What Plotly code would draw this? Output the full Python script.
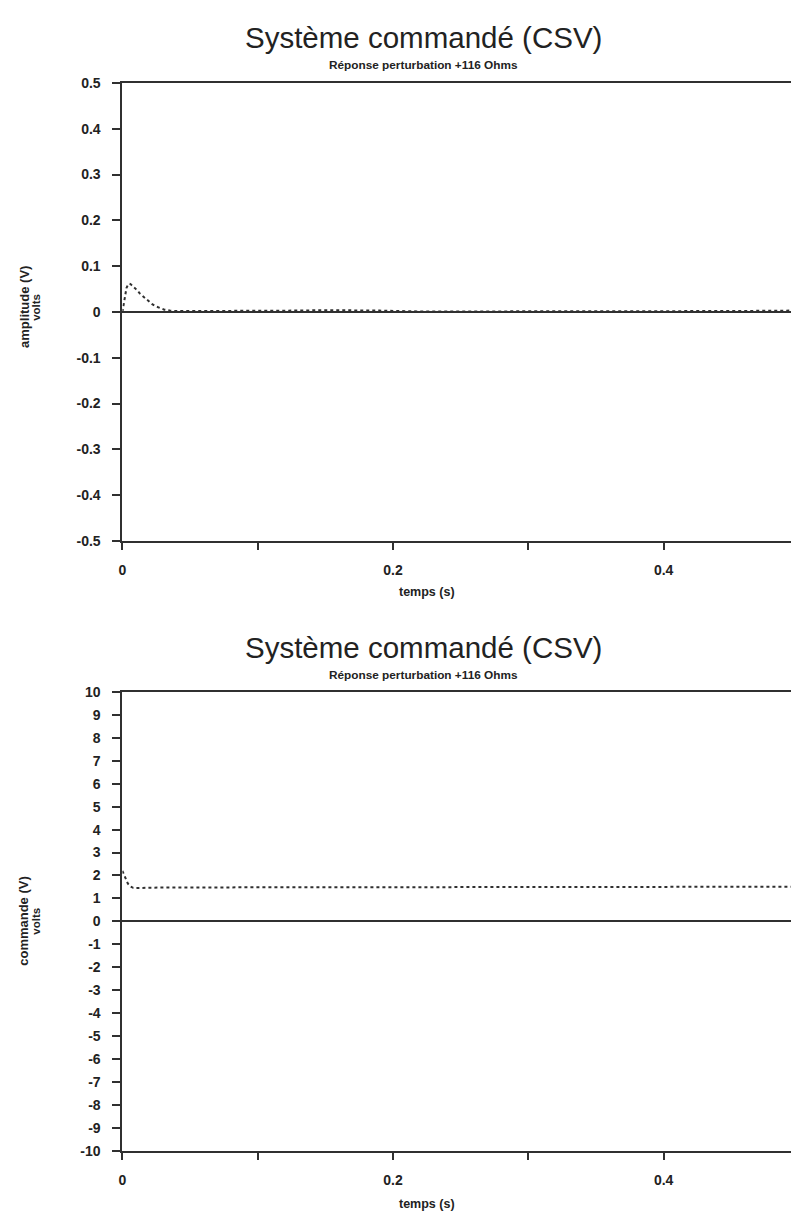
import plotly.graph_objects as go

W, H = 791, 1222

# ---- data ----
t_amp = [0, 0.001, 0.002, 0.003, 0.004, 0.005, 0.006, 0.008, 0.010, 0.013, 0.016,
         0.019, 0.022, 0.025, 0.028, 0.031, 0.035, 0.040, 0.050, 0.070, 0.100,
         0.130, 0.150, 0.170, 0.190, 0.220, 0.260, 0.300, 0.350, 0.400, 0.450, 0.494]
v_amp = [0.0, 0.02, 0.04, 0.052, 0.059, 0.062, 0.061, 0.056, 0.050, 0.040, 0.032,
         0.024, 0.017, 0.012, 0.008, 0.005, 0.003, 0.002, 0.002, 0.002, 0.002,
         0.003, 0.004, 0.004, 0.003, 0.001, 0.001, 0.001, 0.002, 0.002, 0.002, 0.003]

t_cmd = [0, 0.002, 0.004, 0.006, 0.008, 0.010, 0.015, 0.020, 0.05, 0.10, 0.15, 0.20,
         0.25, 0.30, 0.35, 0.40, 0.45, 0.494]
v_cmd = [2.2, 1.9, 1.65, 1.52, 1.46, 1.45, 1.46, 1.47, 1.48, 1.48, 1.48, 1.48,
         1.49, 1.49, 1.50, 1.51, 1.51, 1.51]

x_tickvals = [0, 0.1, 0.2, 0.3, 0.4]
x_ticktext = ["0", "", "0.2", "", "0.4"]
amp_ticks = [0.5, 0.4, 0.3, 0.2, 0.1, 0, -0.1, -0.2, -0.3, -0.4, -0.5]
amp_labels = ["0.5", "0.4", "0.3", "0.2", "0.1", "0", "-0.1", "-0.2", "-0.3", "-0.4", "-0.5"]
cmd_ticks = list(range(10, -11, -1))
cmd_labels = [str(v) for v in cmd_ticks]

title_text = "Système commandé (CSV)"
subtitle_text = "Réponse perturbation +116 Ohms"

def py(y):
    return 1 - y / H

def px(x):
    return x / W

FONT = "Liberation Sans, Arial, sans-serif"
INK = "#222222"
LINE = "#303030"
tickfont = dict(family=FONT, size=14, color=INK, weight="bold")

fig = go.Figure()
fig.add_trace(go.Scatter(x=t_amp, y=v_amp, mode="lines", xaxis="x", yaxis="y",
                         line=dict(color=LINE, width=2, dash="dot"), showlegend=False))
fig.add_trace(go.Scatter(x=t_cmd, y=v_cmd, mode="lines", xaxis="x2", yaxis="y2",
                         line=dict(color=LINE, width=2, dash="dot"), showlegend=False))

x0 = 119
xmax = (W - x0) / 1360.0

common_x = dict(range=[0, xmax], tickvals=x_tickvals, ticktext=x_ticktext,
                ticks="outside", ticklen=7, tickwidth=1.5, tickcolor=LINE,
                showline=True, linecolor=LINE, linewidth=2, mirror=True,
                showgrid=False, zeroline=False, tickfont=tickfont,
                ticklabelstandoff=8, domain=[px(x0), 1])
common_y = dict(ticks="outside", ticklen=8, tickwidth=1.5, tickcolor=LINE,
                showline=True, linecolor=LINE, linewidth=2, mirror=False,
                showgrid=False, zeroline=True, zerolinecolor=LINE, zerolinewidth=2,
                tickfont=tickfont, ticklabelstandoff=9)

fig.update_layout(
    width=W, height=H, margin=dict(l=0, r=0, t=0, b=0),
    paper_bgcolor="white", plot_bgcolor="white",
    xaxis=dict(**common_x, anchor="y"),
    yaxis=dict(**common_y, range=[-0.5, 0.5], tickvals=amp_ticks, ticktext=amp_labels,
               domain=[py(540), py(76)], anchor="x"),
    xaxis2=dict(**common_x, anchor="y2"),
    yaxis2=dict(**common_y, range=[-10, 10], tickvals=cmd_ticks, ticktext=cmd_labels,
                domain=[py(1158), py(693)], anchor="x2"),
)

ann = []
def add(text, x, y, size, bold=False, angle=0):
    ann.append(dict(text=f"<b>{text}</b>" if bold else text, x=px(x), y=py(y),
                    xref="paper", yref="paper", showarrow=False, textangle=angle,
                    xanchor="center", yanchor="middle",
                    font=dict(family=FONT, size=size, color=INK)))

add(title_text, 422, 30, 29.5)
add(subtitle_text, 422, 58, 11.8, bold=True)
add("temps (s)", 425, 592, 12.5, bold=True)
add("amplitude (V)", 20, 303, 13, bold=True, angle=-90)
add("volts", 32, 303, 11.5, bold=True, angle=-90)

add(title_text, 422, 648, 29.5)
add(subtitle_text, 422, 676, 11.8, bold=True)
add("temps (s)", 425, 1212, 12.5, bold=True)
add("commande (V)", 20, 925, 13, bold=True, angle=-90)
add("volts", 32, 925, 11.5, bold=True, angle=-90)

fig.update_layout(annotations=ann)
fig.write_html("out.html")
